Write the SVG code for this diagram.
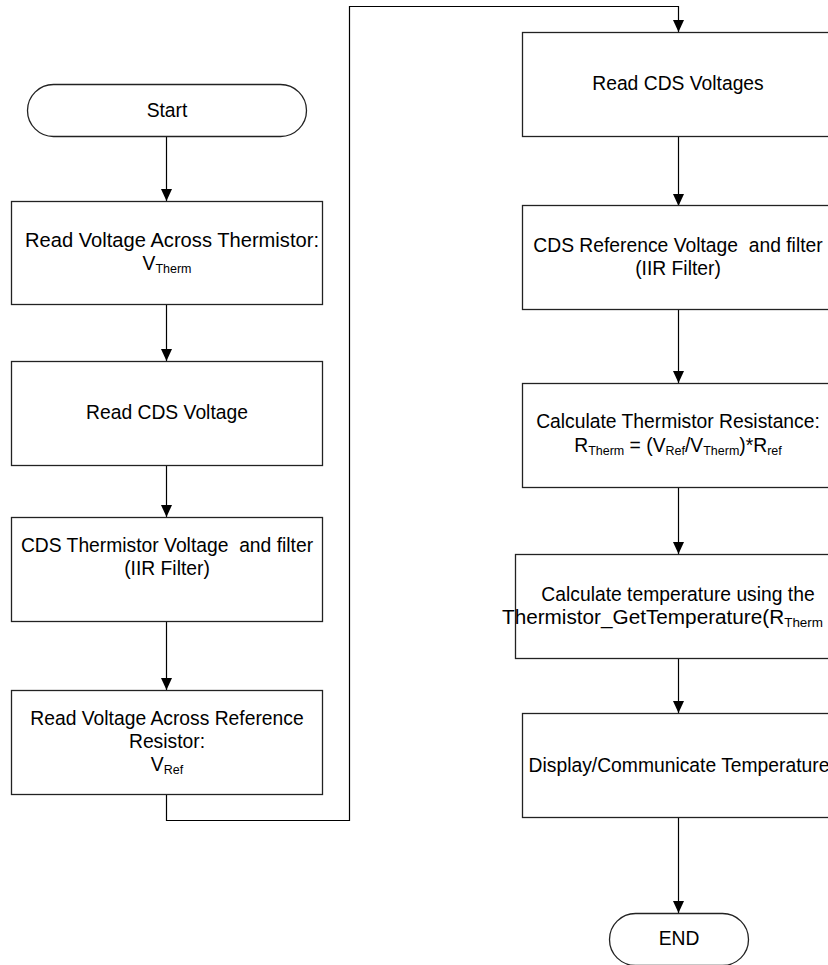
<svg xmlns="http://www.w3.org/2000/svg" width="828" height="965" viewBox="0 0 828 965">
<defs>
<style>
.box{fill:#fff;stroke:#222;stroke-width:1.3}
.t{font-family:"Liberation Sans",Arial,sans-serif;font-size:19.3px;fill:#000;text-anchor:middle}
.s{font-size:12.5px}
.c{fill:none;stroke:#000;stroke-width:1.2}
</style>
<marker id="ah" markerUnits="userSpaceOnUse" markerWidth="12" markerHeight="13" viewBox="0 0 12 13" refX="12" refY="6" orient="auto">
<path d="M0,0.5 L12,6 L0,11.5 Z" fill="#000"/>
</marker>
</defs>
<rect width="828" height="965" fill="#fff"/>
<g id="connectors">
<path class="c" d="M166.5,136 V201" marker-end="url(#ah)"/>
<path class="c" d="M166.5,304 V361" marker-end="url(#ah)"/>
<path class="c" d="M166.5,465 V517" marker-end="url(#ah)"/>
<path class="c" d="M166.5,622 V690" marker-end="url(#ah)"/>
<path class="c" d="M166.5,794 V820.5 H349.5 V6.5 H678.5 V32" marker-end="url(#ah)"/>
<path class="c" d="M678.5,136 V206" marker-end="url(#ah)"/>
<path class="c" d="M678.5,309 V383" marker-end="url(#ah)"/>
<path class="c" d="M678.5,487 V554" marker-end="url(#ah)"/>
<path class="c" d="M678.5,658 V713" marker-end="url(#ah)"/>
<path class="c" d="M678.5,817 V913" marker-end="url(#ah)"/>
</g>
<g id="start">
<rect class="box" x="27.5" y="84.5" width="279" height="52" rx="26" ry="26"/>
<text class="t" x="167" y="117">Start</text>
</g>
<g id="read-vtherm">
<rect class="box" x="11.5" y="201.5" width="311" height="103"/>
<text class="t" x="25" y="247" style="text-anchor:start" textLength="294" lengthAdjust="spacingAndGlyphs">Read Voltage Across Thermistor:</text>
<text class="t" x="167" y="270">V<tspan class="s" dy="3">Therm</tspan></text>
</g>
<g id="read-cds">
<rect class="box" x="11.5" y="361.5" width="311" height="104"/>
<text class="t" x="167" y="419">Read CDS Voltage</text>
</g>
<g id="cds-therm">
<rect class="box" x="11.5" y="517.5" width="311" height="104"/>
<text class="t" x="167" y="552" xml:space="preserve">CDS Thermistor Voltage  and filter</text>
<text class="t" x="167" y="575">(IIR Filter)</text>
</g>
<g id="read-vref">
<rect class="box" x="11.5" y="690.5" width="311" height="104"/>
<text class="t" x="167" y="725">Read Voltage Across Reference</text>
<text class="t" x="167" y="748">Resistor:</text>
<text class="t" x="167" y="771">V<tspan class="s" dy="3">Ref</tspan></text>
</g>
<g id="read-cds-voltages">
<rect class="box" x="522.5" y="32.5" width="311" height="104"/>
<text class="t" x="678" y="90">Read CDS Voltages</text>
</g>
<g id="cds-ref">
<rect class="box" x="522.5" y="205.5" width="311" height="104"/>
<text class="t" x="678" y="252" xml:space="preserve">CDS Reference Voltage  and filter</text>
<text class="t" x="678" y="275">(IIR Filter)</text>
</g>
<g id="calc-res">
<rect class="box" x="522.5" y="383.5" width="311" height="104"/>
<text class="t" x="678" y="428">Calculate Thermistor Resistance:</text>
<text class="t" x="678" y="452">R<tspan class="s" dy="3">Therm</tspan><tspan dy="-3"> = (V</tspan><tspan class="s" dy="3">Ref</tspan><tspan dy="-3">/V</tspan><tspan class="s" dy="3">Therm</tspan><tspan dy="-3">)*R</tspan><tspan class="s" dy="3">ref</tspan></text>
</g>
<g id="calc-temp">
<rect class="box" x="515.5" y="554.5" width="328" height="104"/>
<text class="t" x="678" y="601">Calculate temperature using the</text>
<text class="t" x="502" y="624" style="text-anchor:start" textLength="321" lengthAdjust="spacingAndGlyphs">Thermistor_GetTemperature(R<tspan class="s" dy="3">Therm</tspan></text>
</g>
<g id="display">
<rect class="box" x="522.5" y="713.5" width="311" height="104"/>
<text class="t" x="679" y="772">Display/Communicate Temperature</text>
</g>
<g id="end">
<rect class="box" x="609.5" y="913.5" width="139" height="52" rx="26" ry="26"/>
<text class="t" x="679" y="945">END</text>
</g>
</svg>
